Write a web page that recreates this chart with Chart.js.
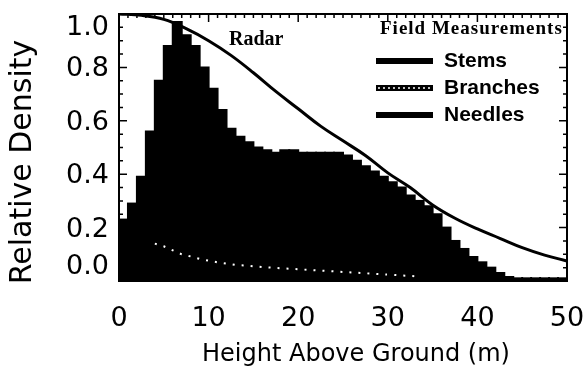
<!DOCTYPE html>
<html>
<head>
<meta charset="utf-8">
<script src="https://cdn.jsdelivr.net/npm/chart.js@4.4.1/dist/chart.umd.min.js"></script>
<style>
  html, body { margin: 0; padding: 0; background: #fff; }
</style>
</head>
<body>
<canvas id="profileChart" width="587" height="376"></canvas>
<script>
// centre of each 1 m height bin (m)
const binHeights = [0.5, 1.5, 2.5, 3.5, 4.5, 5.5, 6.5, 7.5, 8.5, 9.5,
  10.5, 11.5, 12.5, 13.5, 14.5, 15.5, 16.5, 17.5, 18.5, 19.5,
  20.5, 21.5, 22.5, 23.5, 24.5, 25.5, 26.5, 27.5, 28.5, 29.5,
  30.5, 31.5, 32.5, 33.5, 34.5, 35.5, 36.5, 37.5, 38.5, 39.5,
  40.5, 41.5, 42.5, 43.5, 44.5, 45.5, 46.5, 47.5, 48.5, 49.5];
// field measured relative density (histogram)
const needleDensity = [0.23, 0.29, 0.39, 0.56, 0.75, 0.88, 0.97, 0.92, 0.88, 0.80,
  0.72, 0.64, 0.57, 0.54, 0.52, 0.50, 0.49, 0.48, 0.49, 0.49,
  0.48, 0.48, 0.48, 0.48, 0.48, 0.47, 0.45, 0.43, 0.41, 0.39,
  0.37, 0.35, 0.32, 0.30, 0.28, 0.25, 0.20, 0.15, 0.12, 0.09,
  0.07, 0.05, 0.03, 0.015, 0.01, 0.01, 0.01, 0.01, 0.01, 0.01];

// branches (white dotted)
const branchHeights = [4, 5, 6, 7, 8, 9, 10, 11, 12, 13, 14, 15, 16, 17, 18,
  19, 20, 21, 22, 23, 24, 25, 26, 27, 28, 29, 30, 31, 32, 33];
const branchDensity = [0.14, 0.13, 0.115, 0.10, 0.092, 0.083, 0.076, 0.07, 0.065, 0.06,
  0.058, 0.055, 0.052, 0.05, 0.048, 0.046, 0.044, 0.042, 0.04, 0.038,
  0.036, 0.034, 0.032, 0.03, 0.028, 0.026, 0.024, 0.022, 0.02, 0.018];

// radar profile
const radarHeights = [0, 2.5, 5, 7.5, 10, 12.5, 15, 17.5, 20, 22.5,
  25, 27.5, 30, 32.5, 35, 37.5, 40, 42.5, 45, 47.5, 50];
const radarDensity = [1.0, 0.995, 0.98, 0.945, 0.90, 0.845, 0.78, 0.71, 0.645, 0.58,
  0.525, 0.47, 0.405, 0.35, 0.285, 0.235, 0.195, 0.16, 0.125, 0.097, 0.075];

const xTicks = [0, 10, 20, 30, 40, 50];
const yTicks = [0.0, 0.2, 0.4, 0.6, 0.8, 1.0];
const legendLabels = ["Stems", "Branches", "Needles"];
const xTitle = "Height Above Ground (m)";
const yTitle = "Relative Density";

const tickFont = "27px 'DejaVu Sans'";

// frame with inward ticks, y labels, axis titles, legend and the Radar label
const framePlugin = {
  id: "frame",
  afterDatasetsDraw(chart) {
    const { ctx, chartArea: a, scales: { x, y } } = chart;
    ctx.save();
    ctx.strokeStyle = "#000";
    ctx.lineWidth = 2;
    ctx.strokeRect(a.left, a.top, a.right - a.left, a.bottom - a.top);

    ctx.lineWidth = 1.5;
    ctx.beginPath();
    for (let v = 0; v <= 50; v++) {
      const px = x.getPixelForValue(v);
      const len = v % 10 === 0 ? 8 : 4;
      ctx.moveTo(px, a.bottom); ctx.lineTo(px, a.bottom - len);
      ctx.moveTo(px, a.top); ctx.lineTo(px, a.top + len);
    }
    for (let i = 0; i <= 20; i++) {
      const py = y.getPixelForValue(i * 0.05);
      const len = i % 4 === 0 ? 8 : 4;
      ctx.moveTo(a.left, py); ctx.lineTo(a.left + len, py);
      ctx.moveTo(a.right, py); ctx.lineTo(a.right - len, py);
    }
    ctx.stroke();

    // y tick labels (end labels pushed inside like the original)
    ctx.fillStyle = "#000";
    ctx.font = tickFont;
    ctx.textAlign = "right";
    ctx.textBaseline = "middle";
    yTicks.forEach((v) => {
      let py = y.getPixelForValue(v) + 2;
      py = Math.min(Math.max(py, a.top + 14), a.bottom - 14);
      ctx.fillText(v.toFixed(1), a.left - 10, py);
    });

    // axis titles
    ctx.textAlign = "center";
    ctx.font = "24px 'DejaVu Sans'";
    ctx.fillText(xTitle, 356, 355);
    ctx.save();
    ctx.translate(23, 162);
    ctx.rotate(-Math.PI / 2);
    ctx.font = "30px 'DejaVu Sans'";
    ctx.fillText(yTitle, 0, 0);
    ctx.restore();

    // Radar label
    ctx.textAlign = "left";
    ctx.font = "bold 20px 'Liberation Serif'";
    ctx.fillText("Radar", 229, 40);

    // legend
    ctx.font = "bold 19px 'Liberation Serif'";
    ctx.letterSpacing = "1px";
    ctx.fillText("Field Measurements", 380, 29);
    ctx.letterSpacing = "0px";
    ctx.font = "bold 21px 'Liberation Sans'";
    legendLabels.forEach((lab, i) => {
      const ly = 61 + i * 27;
      ctx.fillStyle = "#000";
      ctx.fillRect(376, ly - 3, 57, 6);
      if (lab === "Branches") {
        ctx.strokeStyle = "#fff";
        ctx.lineWidth = 1.5;
        ctx.setLineDash([2, 3]);
        ctx.beginPath();
        ctx.moveTo(378, ly); ctx.lineTo(431, ly);
        ctx.stroke();
        ctx.setLineDash([]);
      }
      ctx.fillText(lab, 444, ly);
    });
    ctx.restore();
  },
};

new Chart(document.getElementById("profileChart"), {
  type: "bar",
  data: {
    datasets: [
      {
        type: "line",
        label: "Radar",
        data: radarHeights.map((h, i) => ({ x: h, y: radarDensity[i] })),
        borderColor: "#000",
        borderWidth: 3,
        pointRadius: 0,
        tension: 0.4,
        order: 0,
      },
      {
        type: "line",
        label: "Branches",
        data: branchHeights.map((h, i) => ({ x: h, y: branchDensity[i] })),
        borderColor: "#fff",
        borderWidth: 2,
        borderDash: [2, 7],
        pointRadius: 0,
        order: 1,
      },
      {
        type: "bar",
        label: "Needles",
        data: binHeights.map((h, i) => ({ x: h, y: needleDensity[i] })),
        backgroundColor: "#000",
        borderWidth: 0,
        inflateAmount: 1,
        barPercentage: 1,
        categoryPercentage: 1,
        grouped: false,
        order: 2,
      },
    ],
  },
  options: {
    responsive: false,
    animation: false,
    layout: { padding: { top: 14, right: 20, left: 0, bottom: 0 } },
    plugins: {
      legend: { display: false },
      tooltip: { enabled: false },
    },
    scales: {
      x: {
        type: "linear",
        min: 0,
        max: 50,
        offset: false,
        grid: {
          display: true,
          drawOnChartArea: false,
          drawTicks: true,
          tickLength: 20,
          color: "rgba(0,0,0,0)",
        },
        border: { display: false },
        afterBuildTicks: (s) => { s.ticks = xTicks.map((v) => ({ value: v })); },
        afterFit: (s) => { s.height = 95; s.paddingRight = 0; },
        ticks: {
          color: "#000",
          font: { family: "DejaVu Sans", size: 27 },
          padding: 2,
          maxRotation: 0,
        },
      },
      y: {
        min: 0,
        max: 1,
        grid: { display: false },
        border: { display: false },
        ticks: { display: false },
        afterFit: (s) => { s.width = 119; },
      },
    },
  },
  plugins: [framePlugin],
});
</script>
</body>
</html>
